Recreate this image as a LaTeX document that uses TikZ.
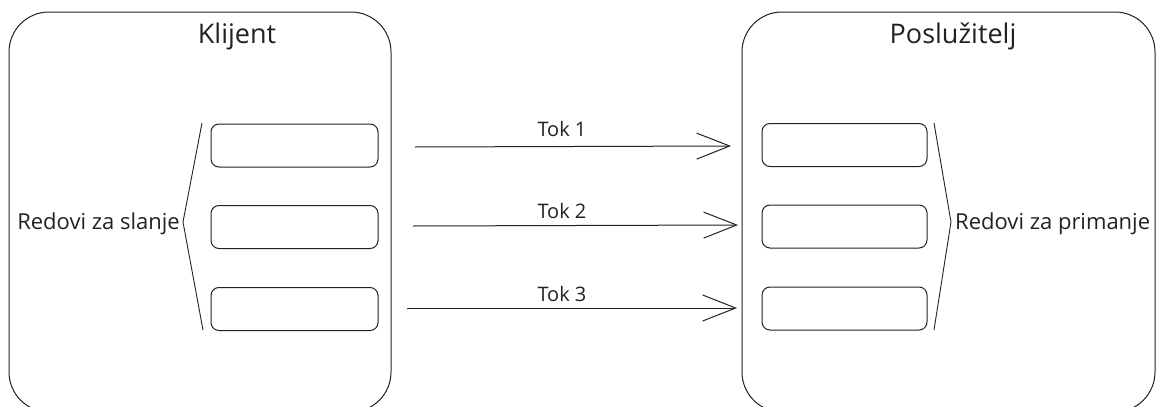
\documentclass[tikz,border=0pt]{standalone}
\usepackage{fontspec}
\setmainfont{Open Sans}
\usetikzlibrary{arrows.meta}
\definecolor{ink}{HTML}{222222}
\begin{document}
\begin{tikzpicture}[x=1pt,y=-1pt,
  bigbox/.style={draw=ink,line width=1pt,rounded corners=40pt,inner sep=0pt},
  qbox/.style={draw=ink,line width=1pt,rounded corners=8pt,inner sep=0pt},
  title/.style={font=\fontsize{27}{31}\selectfont,text=ink,inner sep=0pt},
  lbl/.style={font=\fontsize{20}{24}\selectfont,text=ink,inner sep=0pt},
  side/.style={font=\fontsize{22}{26}\selectfont,text=ink,inner sep=0pt},
  brace/.style={draw=ink,line width=0.9pt},
  flow/.style={draw=ink,line width=1pt,-{Straight Barb[length=33pt,width=26pt,line width=1pt]}}]
\useasboundingbox (0,0) rectangle (1157,407);
\clip (0,0) rectangle (1157,407);
% big containers
\node[bigbox,minimum width=382pt,minimum height=400pt] (client) at (200,212) {};
\node[bigbox,minimum width=413pt,minimum height=400pt] (server) at (948.5,212) {};
\node[title] (tclient) at (237,36) {Klijent};
\node[title] (tserver) at (953,36) {Poslužitelj};
% queues
\node[qbox,minimum width=167pt,minimum height=43pt] (s1) at (294.5,145.5) {};
\node[qbox,minimum width=167pt,minimum height=43pt] (s2) at (294.5,227) {};
\node[qbox,minimum width=167pt,minimum height=43pt] (s3) at (294.5,309) {};
\node[qbox,minimum width=165pt,minimum height=43pt] (r1) at (844.5,145) {};
\node[qbox,minimum width=165pt,minimum height=43pt] (r2) at (844.5,226.5) {};
\node[qbox,minimum width=165pt,minimum height=43pt] (r3) at (844.5,308.5) {};
% braces
\coordinate (lbt) at (202,123);
\coordinate (lbm) at (183,222);
\coordinate (lbb) at (203,330);
\draw[brace] (lbt) -- (lbm) -- (lbb);
\node[side,anchor=east] (lsend) at (180,224) {Redovi za slanje};
\coordinate (rbt) at (934,123);
\coordinate (rbm) at (951,222);
\coordinate (rbb) at (934,330);
\draw[brace] (rbt) -- (rbm) -- (rbb);
\node[side,anchor=west] (lrecv) at (955,224) {Redovi za primanje};
% flows
\coordinate (f1s) at (415,147);
\coordinate (f1e) at (731,146);
\coordinate (f2s) at (413,226);
\coordinate (f2e) at (738,225);
\coordinate (f3s) at (407,308);
\coordinate (f3e) at (737,308);
\draw[flow] (f1s) -- (f1e);
\draw[flow] (f2s) -- (f2e);
\draw[flow] (f3s) -- (f3e);
\node[lbl] (t1) at (562,129) {Tok 1};
\node[lbl] (t2) at (562,211) {Tok 2};
\node[lbl] (t3) at (562,294) {Tok 3};
\end{tikzpicture}
\end{document}
